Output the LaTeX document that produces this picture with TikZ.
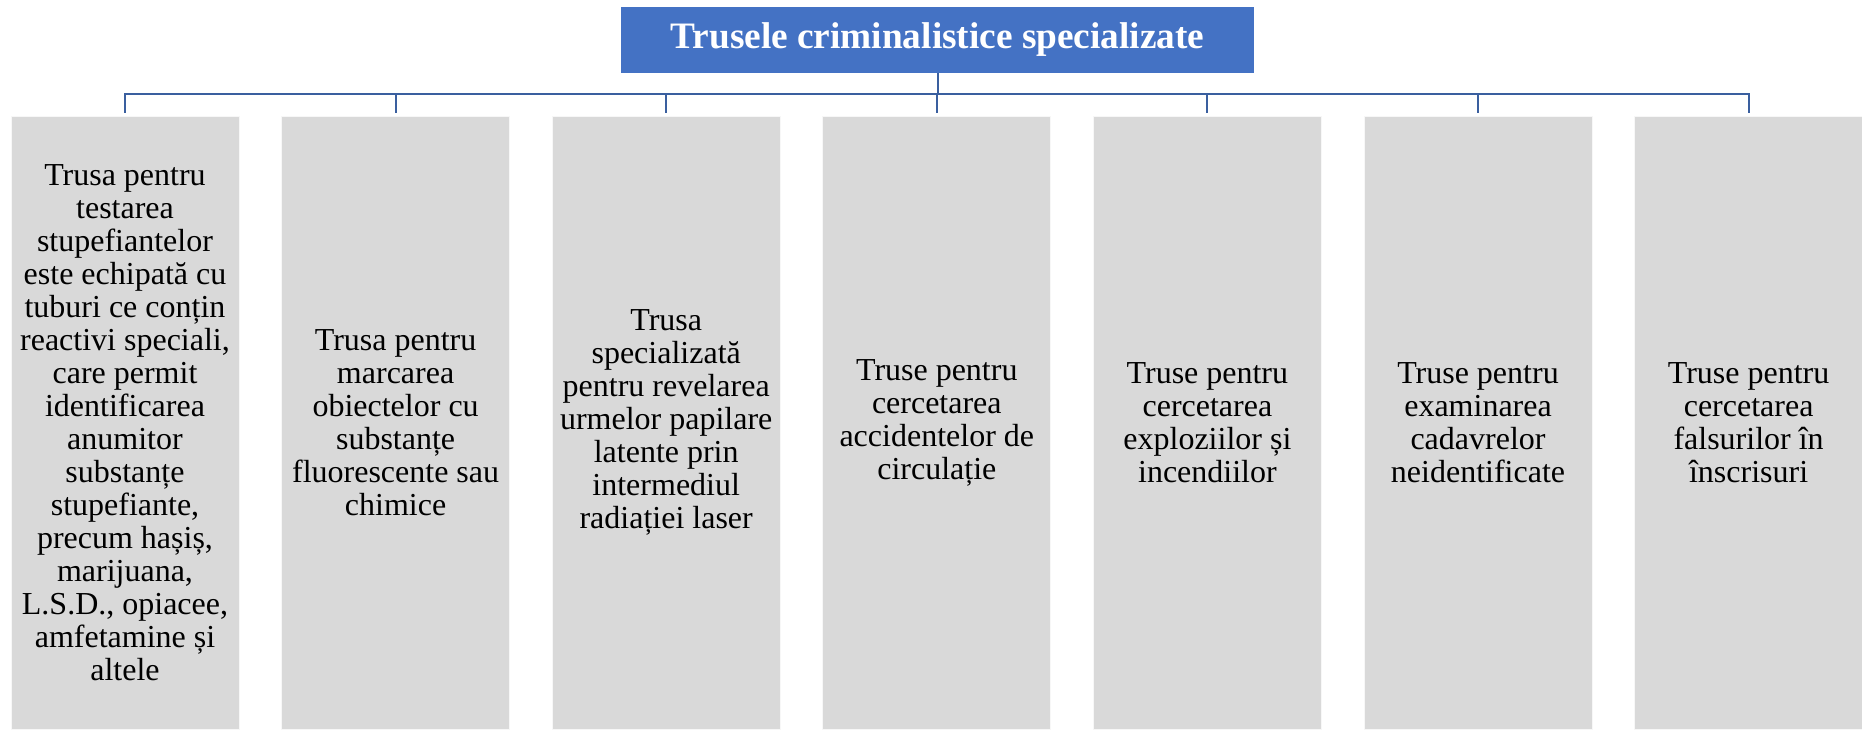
\documentclass[tikz,border=0pt]{standalone}
\usepackage{fontspec}
\setmainfont{Liberation Serif}
\definecolor{titleblue}{HTML}{4472C4}
\definecolor{connblue}{HTML}{3A5F9F}
\definecolor{boxgray}{HTML}{D9D9D9}
\begin{document}
\begin{tikzpicture}[x=1pt,y=-1pt,
  titlebox/.style={fill=titleblue, draw=none, minimum width=633pt, minimum height=66pt, inner sep=0pt,
    text=white, font=\fontsize{37.3}{40}\selectfont\bfseries},
  itembox/.style={fill=boxgray, draw=white!80!boxgray, line width=0.8pt, minimum width=228pt, minimum height=613pt, inner sep=0pt,
    align=center, font=\fontsize{32}{33}\selectfont},
  conn/.style={draw=connblue, line width=2pt}]
\useasboundingbox (0,0) rectangle (1862,729);
\fill[white] (0,0) rectangle (1862,729);
\node[titlebox] (title) at (937.5,40) {Trusele criminalistice specializate};
\node[itembox] (b1) at (125,422.5) {Trusa pentru\\testarea\\stupefiantelor\\este echipată cu\\tuburi ce conțin\\reactivi speciali,\\care permit\\identificarea\\anumitor\\substanțe\\stupefiante,\\precum hașiș,\\marijuana,\\L.S.D., opiacee,\\amfetamine și\\altele};
\node[itembox] (b2) at (395.6,422.5) {Trusa pentru\\marcarea\\obiectelor cu\\substanțe\\fluorescente sau\\chimice};
\node[itembox] (b3) at (666.2,422.5) {Trusa\\specializată\\pentru revelarea\\urmelor papilare\\latente prin\\intermediul\\radiației laser};
\node[itembox] (b4) at (936.8,422.5) {Truse pentru\\cercetarea\\accidentelor de\\circulație};
\node[itembox] (b5) at (1207.4,422.5) {Truse pentru\\cercetarea\\exploziilor și\\incendiilor};
\node[itembox] (b6) at (1478,422.5) {Truse pentru\\examinarea\\cadavrelor\\neidentificate};
\node[itembox] (b7) at (1748.6,422.5) {Truse pentru\\cercetarea\\falsurilor în\\înscrisuri};
\foreach \k in {1,...,7}{
  \draw[conn, shorten >=3pt] (title.south) -- ++(0,21) -| (b\k.north);
}
\end{tikzpicture}
\end{document}
